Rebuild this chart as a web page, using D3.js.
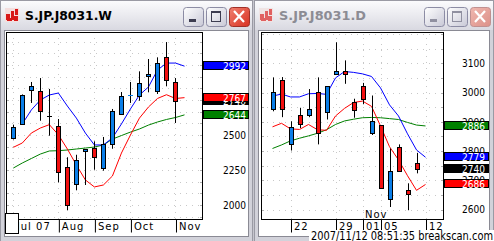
<!DOCTYPE html>
<html>
<head>
<meta charset="utf-8">
<script src="https://cdn.jsdelivr.net/npm/d3@7"></script>
<style>
  body { margin: 0; background: #fff; overflow: hidden; }
  text { font-family: "DejaVu Sans", sans-serif; }
</style>
</head>
<body>
<div id="chart"></div>
<script>
var svgWidth = 494;
var svgHeight = 241;

// weekly candles (S.JP.J8031.W)
var weekDates = ["07/02", "07/09", "07/16", "07/23", "07/30", "08/06", "08/13", "08/20", "08/27", "09/03",
  "09/10", "09/17", "09/24", "10/01", "10/08", "10/15", "10/22", "10/29", "11/05"];
var weekOpen  = [2476, 2581, 2819, 2812, 2634, 2562, 2269, 2150, 2388, 2407, 2264, 2436, 2650, 2780, 2781, 2919, 2812, 3055, 2879];
var weekClose = [2557, 2784, 2848, 2669, 2634, 2234, 1998, 2324, 2400, 2341, 2434, 2669, 2776, 2786, 2871, 2936, 3014, 2891, 2740];
var weekHigh  = [2574, 2790, 2879, 2907, 2829, 2614, 2341, 2359, 2400, 2455, 2486, 2686, 2807, 2879, 2955, 3043, 3055, 3164, 2907];
var weekLow   = [2468, 2574, 2729, 2602, 2495, 2162, 1962, 2105, 2143, 2252, 2245, 2402, 2650, 2729, 2745, 2805, 2793, 2848, 2586];
// moving averages, drawn one slot ahead (last slot = 11/12)
var weekMaBlue  = [null, 2579, 2679, 2750, 2786, 2800, 2707, 2621, 2514, 2429, 2429, 2479, 2579, 2686, 2786, 2843, 2964, 3014, 3014, 2992];
var weekMaRed   = [2412, 2443, 2514, 2550, 2574, 2502, 2400, 2286, 2179, 2129, 2143, 2207, 2371, 2500, 2621, 2700, 2761, 2788, 2761, 2767];
var weekMaGreen = [2264, 2300, 2332, 2364, 2386, 2388, 2393, 2400, 2407, 2414, 2429, 2471, 2496, 2521, 2543, 2571, 2593, 2611, 2625, 2644];
var weekTicks = ["07/02", "08/06", "09/03", "10/01", "11/05"];
var weekTickLabels = ["Jul 07", "Aug", "Sep", "Oct", "Nov"];
var weekPriceTicks = [2000, 2250, 2500, 2750, 3000];

// daily candles (S.JP.J8031.D)
var dayDates = ["10/18", "10/19", "10/22", "10/23", "10/24", "10/25", "10/26", "10/29", "10/30", "10/31",
  "11/01", "11/02", "11/05", "11/06", "11/07", "11/08", "11/09"];
var dayOpen  = [2944, 3042, 2823, 2923, 2923, 3001, 2934, 3062, 3073, 2968, 3022, 2861, 2889, 2638, 2814, 2667, 2760];
var dayClose = [3001, 2944, 2882, 2893, 2944, 2862, 3022, 3073, 3062, 2942, 2979, 2902, 2675, 2732, 2732, 2653, 2740];
var dayHigh  = [3052, 3053, 2902, 2948, 3012, 3052, 3022, 3172, 3110, 2979, 3033, 2990, 2889, 2809, 2823, 2690, 2794];
var dayLow   = [2936, 2916, 2802, 2879, 2916, 2823, 2908, 3062, 3030, 2914, 2961, 2855, 2673, 2609, 2732, 2598, 2724];
var dayMaBlue  = [2988, 2995, 2985, 2985, 2996, 2997, 2994, 3050, 3072, 3069, 3064, 3055, 3016, 2958, 2920, 2859, 2804, 2779];
var dayMaRed   = [2883, 2895, 2876, 2874, 2891, 2873, 2871, 2920, 2946, 2966, 2971, 2953, 2886, 2815, 2770, 2716, 2666, 2686];
var dayMaGreen = [2809, 2821, 2835, 2844, 2852, 2861, 2873, 2891, 2903, 2909, 2914, 2915, 2914, 2911, 2908, 2898, 2889, 2886];
var dayTicks = ["10/22", "10/29", "11/01", "11/05", "11/12"];
var dayTickLabels = ["22", "29", "01", "05", "12"];
var dayPriceTicks = [2600, 2700, 2800, 2900, 3000, 3100];

var upColor = "#0a7ee8";
var downColor = "#f21010";

var svg = d3.select("#chart")
  .append("svg")
  .attr("width", svgWidth)
  .attr("height", svgHeight);

var defs = svg.append("defs");
var tg = defs.append("linearGradient").attr("id", "titleGrad").attr("x1", 0).attr("y1", 0).attr("x2", 0).attr("y2", 1);
tg.append("stop").attr("offset", "0%").attr("stop-color", "#fbfbfd");
tg.append("stop").attr("offset", "100%").attr("stop-color", "#d9d9e1");
var bg = defs.append("linearGradient").attr("id", "btnGrad").attr("x1", 0).attr("y1", 0).attr("x2", 1).attr("y2", 1);
bg.append("stop").attr("offset", "0%").attr("stop-color", "#ffffff");
bg.append("stop").attr("offset", "100%").attr("stop-color", "#c8c8d6");
var cg = defs.append("linearGradient").attr("id", "closeGrad").attr("x1", 0).attr("y1", 0).attr("x2", 1).attr("y2", 1);
cg.append("stop").attr("offset", "0%").attr("stop-color", "#f08070");
cg.append("stop").attr("offset", "100%").attr("stop-color", "#d83020");
var cg2 = defs.append("linearGradient").attr("id", "closeGrad2").attr("x1", 0).attr("y1", 0).attr("x2", 1).attr("y2", 1);
cg2.append("stop").attr("offset", "0%").attr("stop-color", "#f0b8b0");
cg2.append("stop").attr("offset", "100%").attr("stop-color", "#dc9088");

// gray desktop behind windows
svg.append("rect").attr("width", svgWidth).attr("height", svgHeight).attr("fill", "#c6c6ce");

// window frame + title bar
function drawWindow(x0, w, title, active) {
  var g = svg.append("g");
  g.append("rect").attr("x", x0 + 0.5).attr("y", 0.5).attr("width", w - 1).attr("height", svgHeight + 5)
    .attr("fill", "#d2d2da").attr("stroke", "#9a9aa4");
  g.append("rect").attr("x", x0 + 1).attr("y", 1).attr("width", w - 2).attr("height", 29)
    .attr("fill", "url(#titleGrad)");
  g.append("rect").attr("x", x0 + 4.5).attr("y", 30.5).attr("width", w - 9).attr("height", 206)
    .attr("fill", "#fff").attr("stroke", "#8a8a94");

  // little icon
  var ic = g.append("g").attr("transform", "translate(" + (x0 + 5) + ",8)");
  ic.append("rect").attr("width", 14).attr("height", 14).attr("fill", active ? "#f4dede" : "#f0e4e4");
  [[1, 6, 4, 6], [6, 3, 3, 9], [10, 1, 3, 6], [2, 10, 5, 3], [9, 8, 4, 5]].forEach(function(r) {
    ic.append("rect").attr("x", r[0]).attr("y", r[1]).attr("width", r[2]).attr("height", r[3])
      .attr("fill", active ? "#d81818" : "#e06060");
  });

  g.append("text")
    .attr("x", x0 + 25).attr("y", 20)
    .attr("font-size", 12).attr("font-weight", "bold")
    .attr("textLength", 87).attr("lengthAdjust", "spacingAndGlyphs")
    .attr("fill", active ? "#000" : "#8c8c94")
    .text(title);

  // buttons: minimize, maximize, close
  var bx = x0 + w - 70;
  [0, 1, 2].forEach(function(i) {
    var b = g.append("g").attr("transform", "translate(" + (bx + i * 23) + ",7)");
    b.append("rect").attr("x", 0.5).attr("y", 0.5).attr("width", 20).attr("height", 19).attr("rx", 3)
      .attr("fill", i === 2 ? (active ? "url(#closeGrad)" : "url(#closeGrad2)") : "url(#btnGrad)")
      .attr("stroke", i === 2 ? (active ? "#a03028" : "#c09090") : "#8c8ca4");
    if (i === 0) {
      b.append("rect").attr("x", 6).attr("y", 12).attr("width", 7).attr("height", 3)
        .attr("fill", active ? "#3c3c50" : "#9090a0");
    } else if (i === 1) {
      b.append("rect").attr("x", 5.5).attr("y", 4.5).attr("width", 9).attr("height", 10)
        .attr("fill", "none").attr("stroke", active ? "#3c3c50" : "#9090a0").attr("stroke-width", 1);
      b.append("rect").attr("x", 5).attr("y", 4).attr("width", 10).attr("height", 2)
        .attr("fill", active ? "#3c3c50" : "#9090a0");
    } else {
      b.append("path").attr("d", "M5,4 L15,15 M15,4 L5,15")
        .attr("stroke", "#fff").attr("stroke-width", 2.2);
    }
  });
  return g;
}

drawWindow(0, 253, "S.JP.J8031.W", true);
drawWindow(254, 240, "S.JP.J8031.D", false);

// one candle chart panel
function drawPanel(p) {
  var slots = p.dates.concat(["11/12"]);
  var x = d3.scalePoint().domain(slots).range(p.xRange);
  var y = d3.scaleLinear().domain(p.yDomain).range([p.bottom, p.top]);

  var g = svg.append("g");

  // dotted grid
  var gridVals = d3.range(Math.ceil(p.yDomain[0] / p.gridStep) * p.gridStep, p.yDomain[1], p.gridStep);
  g.selectAll(".hgrid").data(gridVals).enter().append("line")
    .attr("x1", p.left).attr("x2", p.right)
    .attr("y1", d => Math.round(y(d)) + 0.5).attr("y2", d => Math.round(y(d)) + 0.5)
    .attr("stroke", "#c8c8c8").attr("stroke-dasharray", "1,5");
  g.selectAll(".vgrid").data(p.ticks).enter().append("line")
    .attr("x1", d => Math.round(x(d)) + 0.5).attr("x2", d => Math.round(x(d)) + 0.5)
    .attr("y1", p.top).attr("y2", p.bottom)
    .attr("stroke", "#c8c8c8").attr("stroke-dasharray", "1,5");
  // small ticks on both plot edges
  g.selectAll(".lt").data(gridVals).enter().append("line")
    .attr("x1", p.left).attr("x2", p.left + 3)
    .attr("y1", d => Math.round(y(d)) + 0.5).attr("y2", d => Math.round(y(d)) + 0.5)
    .attr("stroke", "#b0b0b0");
  g.selectAll(".rt").data(gridVals).enter().append("line")
    .attr("x1", p.right - 3).attr("x2", p.right)
    .attr("y1", d => Math.round(y(d)) + 0.5).attr("y2", d => Math.round(y(d)) + 0.5)
    .attr("stroke", "#b0b0b0");

  // moving averages
  [[p.maGreen, "#008000"], [p.maRed, "#ff0000"], [p.maBlue, "#0000ff"]].forEach(function(s) {
    var line = d3.line()
      .defined(d => d != null)
      .x((d, i) => x(slots[i]))
      .y(d => y(d));
    g.append("path").datum(s[0])
      .attr("d", line)
      .attr("fill", "none")
      .attr("stroke", s[1])
      .attr("stroke-width", 1);
  });

  // candles
  var candles = p.dates.map(function(d, i) {
    return { date: d, open: p.open[i], close: p.close[i], high: p.high[i], low: p.low[i] };
  });
  var cg = g.selectAll(".candle").data(candles).enter().append("g");
  cg.append("line")
    .attr("x1", d => Math.round(x(d.date)) + 0.5).attr("x2", d => Math.round(x(d.date)) + 0.5)
    .attr("y1", d => y(d.high)).attr("y2", d => y(d.low))
    .attr("stroke", "#000");
  cg.each(function(d) {
    var cx = Math.round(x(d.date));
    var yt = Math.round(y(Math.max(d.open, d.close)));
    var yb = Math.round(y(Math.min(d.open, d.close)));
    var col = d.close > d.open ? upColor : (d.close < d.open ? downColor : "#000");
    if (yb - yt < 2) {
      d3.select(this).append("rect")
        .attr("x", cx - 2).attr("y", yt).attr("width", 5).attr("height", 1)
        .attr("fill", col);
    } else {
      d3.select(this).append("rect")
        .attr("x", cx - 1.5).attr("y", yt + 0.5).attr("width", 4).attr("height", yb - yt)
        .attr("fill", col).attr("stroke", "#000");
    }
  });

  // plot frame
  g.append("rect")
    .attr("x", p.left + 0.5).attr("y", p.top + 0.5)
    .attr("width", p.right - p.left - 1).attr("height", p.bottom - p.top)
    .attr("fill", "none").attr("stroke", "#000");

  // date axis
  var xAxis = d3.axisBottom(x)
    .tickValues(p.ticks)
    .tickFormat((d, i) => p.tickLabels[i])
    .tickSize(13)
    .tickSizeOuter(0);
  var xa = g.append("g")
    .attr("transform", "translate(0," + (p.bottom + 0.5) + ")")
    .call(xAxis);
  xa.select(".domain").remove();
  xa.selectAll(".tick line").attr("stroke", "#000").attr("transform", "translate(0.5,0)");
  xa.selectAll(".tick text")
    .attr("text-anchor", "start").attr("x", 3).attr("y", 3)
    .attr("font-family", "DejaVu Sans").attr("font-size", 10)
    .attr("letter-spacing", 1).attr("fill", "#000");

  // price axis labels
  var yAxis = d3.axisRight(y).tickValues(p.priceTicks).tickSize(0).tickFormat(d3.format("d"));
  var ya = g.append("g")
    .attr("transform", "translate(" + p.labelX + ",0)")
    .call(yAxis);
  ya.select(".domain").remove();
  ya.selectAll(".tick text")
    .attr("text-anchor", "end").attr("x", 0)
    .attr("font-family", "DejaVu Sans").attr("font-size", 10)
    .attr("textLength", 23).attr("lengthAdjust", "spacingAndGlyphs")
    .attr("fill", "#000");

  // last-value boxes
  var n = p.close.length - 1;
  var boxes = [
    { v: p.maBlue[n + 1], c: "#0000ff" },
    { v: p.maGreen[n + 1], c: "#008000" },
    { v: p.close[n], c: "#000000" },
    { v: p.maRed[n + 1], c: "#ff0000" }
  ];
  boxes.forEach(function(b) {
    var yy = Math.round(y(b.v));
    g.append("rect")
      .attr("x", p.right + 0.5).attr("y", yy - 4.5)
      .attr("width", p.boxW).attr("height", 8)
      .attr("fill", b.c).attr("stroke", "#000");
    g.append("text")
      .attr("x", p.labelX).attr("y", yy + 3.5)
      .attr("text-anchor", "end")
      .attr("font-size", 10)
      .attr("textLength", 23).attr("lengthAdjust", "spacingAndGlyphs")
      .attr("fill", "#fff")
      .text(b.v);
  });

  return { x: x, y: y, g: g };
}

var weekPanel = drawPanel({
  dates: weekDates, open: weekOpen, close: weekClose, high: weekHigh, low: weekLow,
  maBlue: weekMaBlue, maRed: weekMaRed, maGreen: weekMaGreen,
  ticks: weekTicks, tickLabels: weekTickLabels, priceTicks: weekPriceTicks,
  xRange: [13.3, 184.5], yDomain: [1900, 3236], gridStep: 250 / 3,
  left: 6, right: 203, top: 32, bottom: 219, labelX: 246, boxW: 45
});

var dayPanel = drawPanel({
  dates: dayDates, open: dayOpen, close: dayClose, high: dayHigh, low: dayLow,
  maBlue: dayMaBlue, maRed: dayMaRed, maGreen: dayMaGreen,
  ticks: dayTicks, tickLabels: dayTickLabels, priceTicks: dayPriceTicks,
  xRange: [272.5, 425.5], yDomain: [2568, 3207], gridStep: 50,
  left: 261, right: 444, top: 32, bottom: 219, labelX: 485, boxW: 44
});

// small empty box at the corner of the weekly chart
svg.append("rect").attr("x", 5.5).attr("y", 213.5).attr("width", 13).attr("height", 20)
  .attr("fill", "#fff").attr("stroke", "#000");

// month label inside the daily chart
svg.append("text").attr("x", 365).attr("y", 218)
  .attr("font-size", 10).attr("letter-spacing", 1).attr("fill", "#000")
  .text("Nov");

// timestamp stamp
svg.append("rect").attr("x", 309).attr("y", 230).attr("width", 185).attr("height", 11).attr("fill", "#fff");
svg.append("text").attr("x", 311).attr("y", 239.5)
  .attr("font-family", "Liberation Sans").attr("font-size", 12)
  .attr("textLength", 182).attr("lengthAdjust", "spacingAndGlyphs")
  .attr("fill", "#000")
  .text("2007/11/12 08:51:35 breakscan.com");
</script>
</body>
</html>
